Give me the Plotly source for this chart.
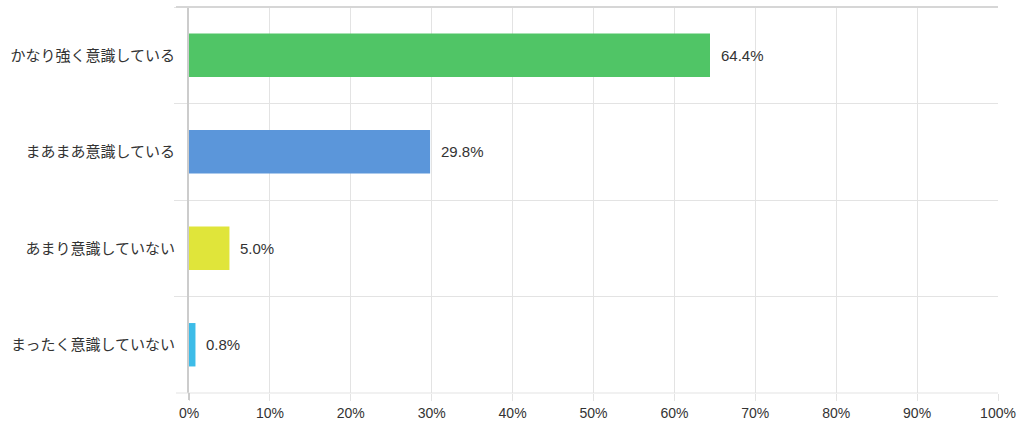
import plotly.graph_objects as go

categories = ["かなり強く意識している", "まあまあ意識している", "あまり意識していない", "まったく意識していない"]
values = [64.4, 29.8, 5.0, 0.8]
colors = ["#50C566", "#5B96DA", "#E0E53A", "#3DBCE8"]
x_ticks = [0, 10, 20, 30, 40, 50, 60, 70, 80, 90, 100]
x_tick_labels = [f"{v}%" for v in x_ticks]

FONT = "Liberation Sans, Arial, Noto Sans CJK JP, sans-serif"

fig = go.Figure(go.Bar(
    x=values,
    y=categories,
    orientation="h",
    marker=dict(color=colors, line=dict(width=0)),
    width=0.45,
    hoverinfo="skip",
))

annotations = [
    dict(x=v, y=c, xref="x", yref="y", text=f"{v:.1f}%",
         showarrow=False, xanchor="left", yanchor="middle", xshift=9,
         font=dict(size=15, color="#333333", family=FONT))
    for c, v in zip(categories, values)
]

fig.update_layout(
    width=1024, height=430,
    margin=dict(l=189, r=26, t=7, b=37),
    paper_bgcolor="white", plot_bgcolor="white",
    showlegend=False,
    font=dict(family=FONT, size=14, color="#333333"),
    xaxis=dict(
        range=[0, 100],
        tickvals=x_ticks, ticktext=x_tick_labels,
        showgrid=True, gridcolor="#e3e3e3", gridwidth=1,
        ticks="outside", ticklen=7, tickcolor="#e3e3e3",
        zeroline=False, showline=False,
        tickfont=dict(size=14, color="#333333"),
        fixedrange=True, automargin=False,
    ),
    yaxis=dict(
        type="category",
        categoryorder="array", categoryarray=categories,
        autorange="reversed",
        tickson="boundaries",
        showgrid=True, gridcolor="#e3e3e3", gridwidth=1,
        ticks="outside", ticklen=13, tickcolor="#e3e3e3",
        ticklabelstandoff=9,
        showline=True, linecolor="#cccccc", linewidth=2,
        zeroline=False,
        tickfont=dict(size=15, color="#333333"),
        fixedrange=True, automargin=False,
    ),
    annotations=annotations,
    shapes=[
        dict(type="line", xref="paper", yref="paper",
             x0=-13/809, x1=1, y0=1, y1=1,
             line=dict(color="#d6d6d6", width=2)),
        dict(type="line", xref="paper", yref="paper",
             x0=-13/809, x1=1, y0=0, y1=0,
             line=dict(color="#e3e3e3", width=1)),
        dict(type="line", xref="paper", yref="paper",
             x0=0, x1=0, y0=0, y1=-7/386,
             line=dict(color="#cccccc", width=2)),
    ],
)

fig.write_html("out.html", config={"displayModeBar": False},
               post_script="document.body.style.margin='0';document.body.style.padding='0';")
